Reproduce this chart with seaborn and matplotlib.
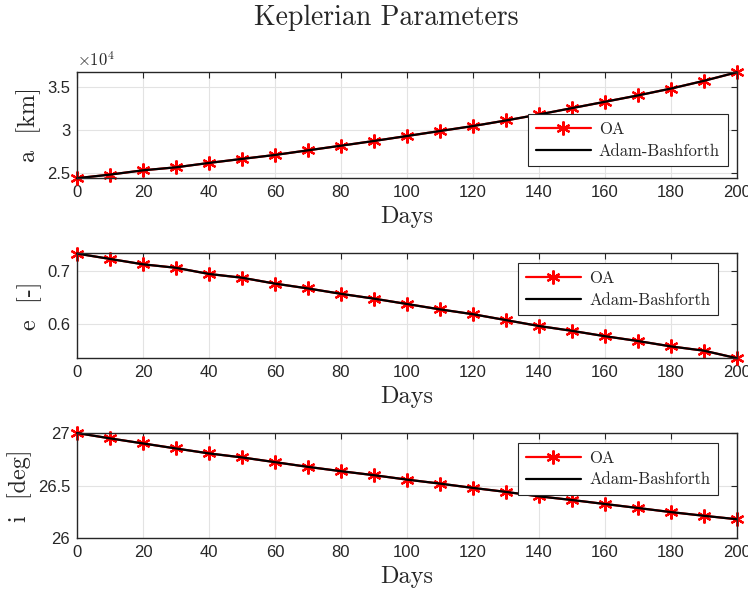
import matplotlib
matplotlib.use("Agg")
import matplotlib.pyplot as plt
from matplotlib.ticker import FuncFormatter, MultipleLocator
import seaborn as sns
import pandas as pd

# Propagation time (days)
days = [0, 10, 20, 30, 40, 50, 60, 70, 80, 90, 100,
        110, 120, 130, 140, 150, 160, 170, 180, 190, 200]

# Semi-major axis [km]
a_km = [24350, 24770, 25270, 25620, 26130, 26600, 27060, 27600, 28140, 28690, 29270,
        29850, 30430, 31080, 31780, 32520, 33260, 34000, 34800, 35700, 36700]

# Eccentricity [-]
ecc = [0.732, 0.722, 0.712, 0.7055, 0.694, 0.687, 0.676, 0.667, 0.657, 0.648, 0.638,
       0.628, 0.619, 0.608, 0.597, 0.588, 0.578, 0.569, 0.559, 0.551, 0.537]

# Inclination [deg]
inc = [27.0, 26.949, 26.901, 26.853, 26.806, 26.768, 26.723, 26.678, 26.637, 26.599, 26.557,
       26.519, 26.478, 26.44, 26.398, 26.363, 26.325, 26.287, 26.248, 26.213, 26.18]

series_names = ["OA", "Adam-Bashforth"]
ylabels = ["a  [km]", "e  [-]", "i  [deg]"]

sns.set_style("whitegrid")
plt.rcParams["font.family"] = ["Liberation Sans", "DejaVu Sans"]
plt.rcParams["mathtext.fontset"] = "cm"
serif = "cmr10"

fig = plt.figure(figsize=(7.48, 5.94), dpi=100)
boxes = [
    (0.103, 0.700, 0.882, 0.179),
    (0.103, 0.397, 0.882, 0.177),
    (0.103, 0.094, 0.882, 0.177),
]
data_sets = [a_km, ecc, inc]
ylims = [(24350, 36750), (0.537, 0.733), (26.0, 27.0)]
yticks = [[25000, 30000, 35000], [0.6, 0.7], [26, 26.5, 27]]
legend_anchor = [("lower right", (0.986, 0.113)),
                 ("upper right", (0.971, 0.905)),
                 ("upper right", (0.971, 0.908))]

for k, (box, vals) in enumerate(zip(boxes, data_sets)):
    ax = fig.add_axes(box)
    df = pd.DataFrame({"Days": days, "val": vals})
    sns.lineplot(data=df, x="Days", y="val", ax=ax, color="#ff0000", lw=1.6,
                 marker=(6, 2, 0), markersize=10, markeredgewidth=1.6,
                 markeredgecolor="#ff0000", label=series_names[0], clip_on=False)
    sns.lineplot(data=df, x="Days", y="val", ax=ax, color="black", lw=1.6,
                 label=series_names[1], clip_on=False)
    ax.set_xlim(0, 200)
    ax.set_ylim(*ylims[k])
    ax.xaxis.set_major_locator(MultipleLocator(20))
    ax.set_yticks(yticks[k])
    if k == 0:
        ax.yaxis.set_major_formatter(FuncFormatter(lambda v, p: f"{v/1e4:g}"))
        ax.text(0.0, 1.015, r"$\times 10^{4}$", transform=ax.transAxes,
                fontsize=12, color="#262626", ha="left", va="bottom",
                fontfamily="DejaVu Sans")
    else:
        ax.yaxis.set_major_formatter(FuncFormatter(lambda v, p: f"{v:g}"))
    ax.set_xlabel("Days", fontfamily=serif, fontsize=17.5, labelpad=4)
    ax.set_ylabel(ylabels[k], fontfamily=serif, fontsize=17.5, labelpad=4)
    ax.grid(True, color="#e3e3e3", lw=0.8)
    for s in ax.spines.values():
        s.set_color("#262626")
        s.set_linewidth(1.0)
    ax.tick_params(axis="both", which="both", direction="in", length=4,
                   width=0.8, color="#262626", labelsize=12,
                   labelcolor="#262626", top=True, right=True, pad=5)
    loc, anchor = legend_anchor[k]
    leg = ax.legend(loc=loc, bbox_to_anchor=anchor, fancybox=False, framealpha=1,
                    edgecolor="#262626", prop={"family": serif, "size": 12},
                    borderaxespad=0.0, handlelength=3.3, handletextpad=0.5,
                    borderpad=0.45, labelspacing=0.4)
    leg.get_frame().set_linewidth(0.8)

fig.text(0.517, 0.97, "Keplerian Parameters", ha="center", va="center",
         fontfamily=serif, fontsize=20)

fig.savefig("out.png", dpi=100)
